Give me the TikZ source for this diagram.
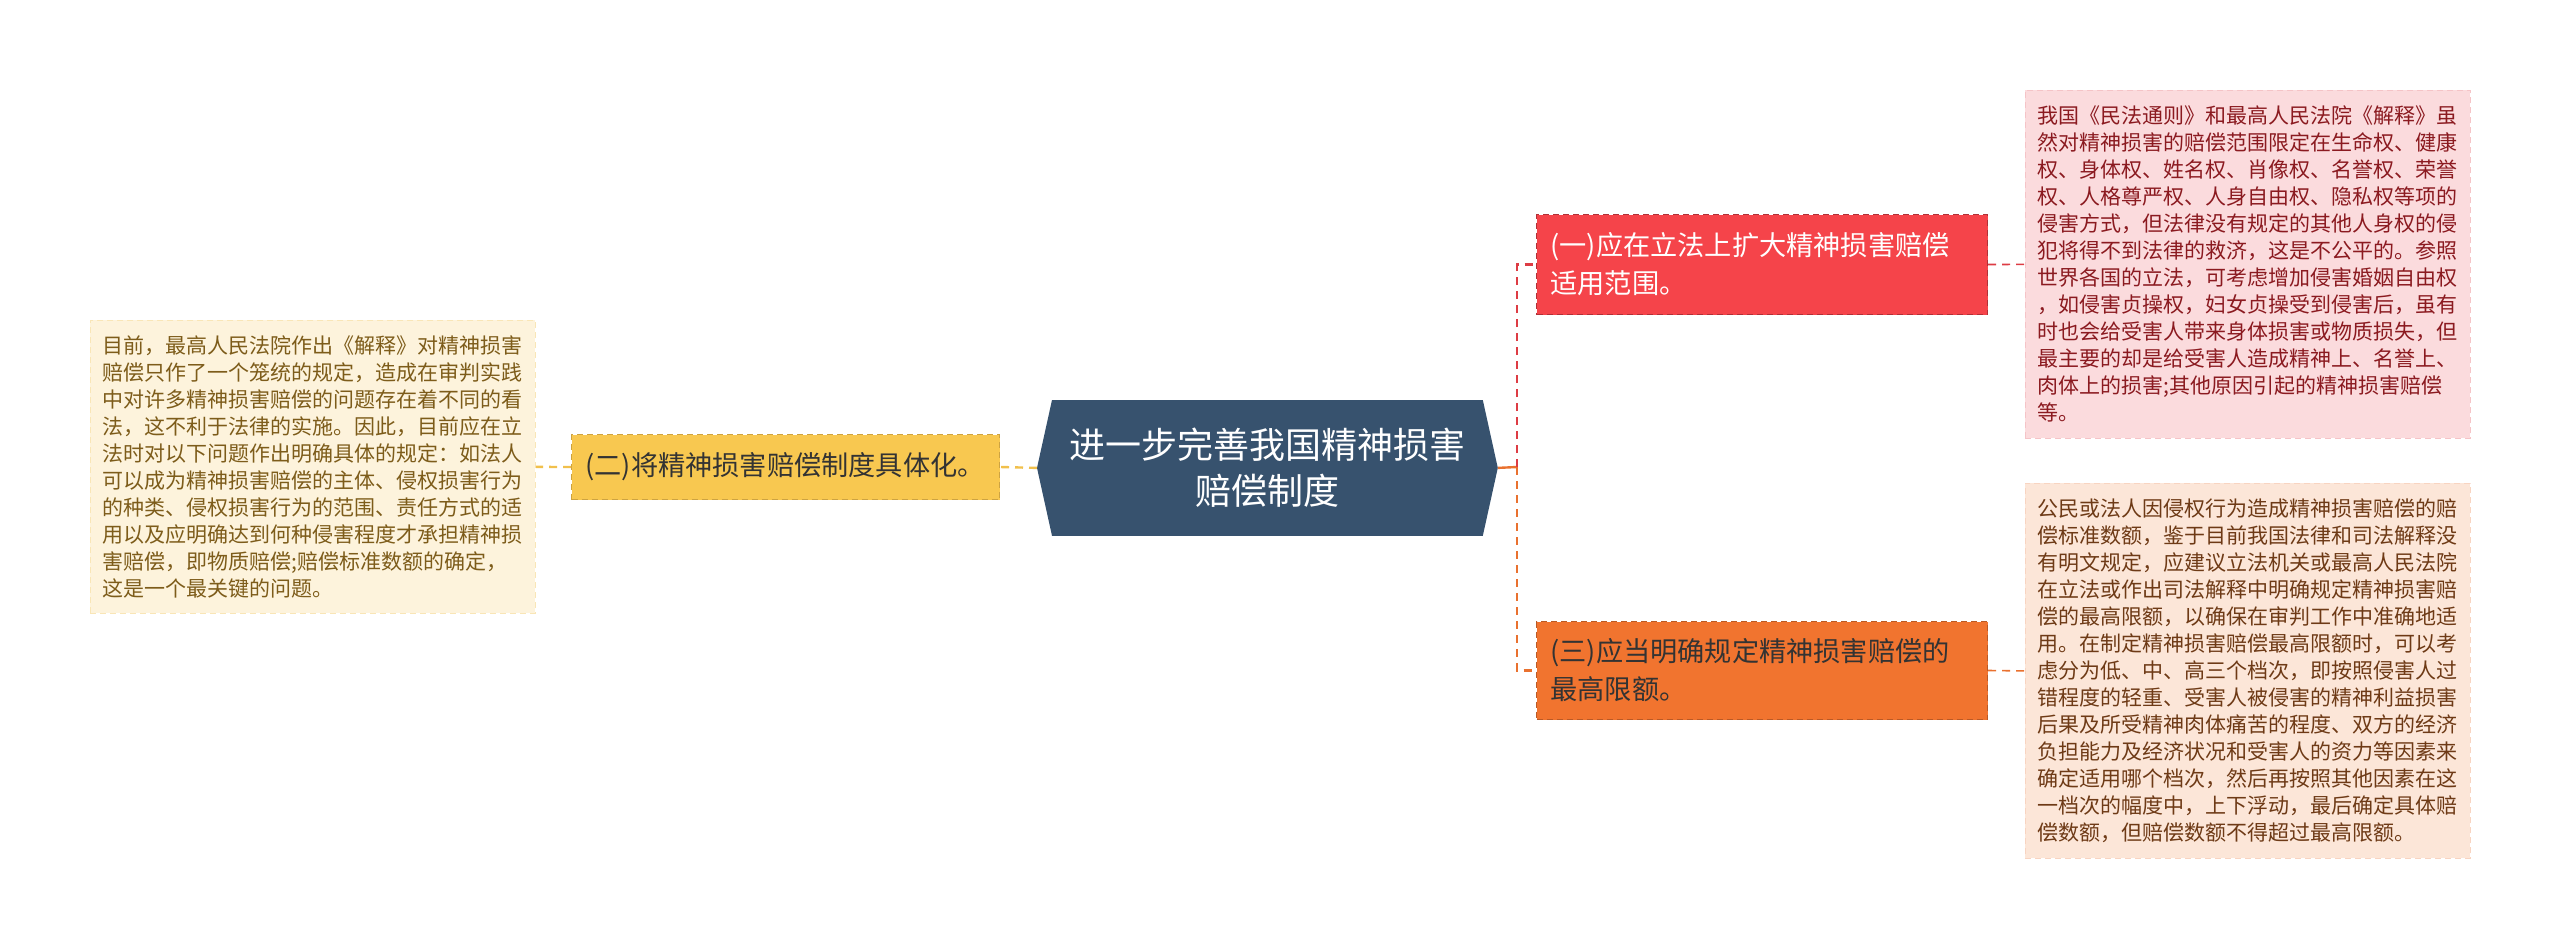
\documentclass[tikz,border=0pt]{standalone}
\usepackage{fontspec}
\newfontfamily\cjk{Noto Sans CJK SC}
\usepackage{tikz}
\usetikzlibrary{positioning,backgrounds}

\definecolor{rootblue}{HTML}{37526E}
\definecolor{redtopic}{HTML}{F5444A}
\definecolor{redline}{HTML}{DD3C44}
\definecolor{orangetopic}{HTML}{F1742F}
\definecolor{orangeline}{HTML}{E9712F}
\definecolor{yellowtopic}{HTML}{F8C850}
\definecolor{yellowline}{HTML}{F1C04C}
\definecolor{yellownote}{HTML}{FDF3DC}
\definecolor{yellowtext}{HTML}{7D5C1A}
\definecolor{pinknote}{HTML}{FBDBDD}
\definecolor{pinktext}{HTML}{8B1A20}
\definecolor{peachnote}{HTML}{FCE6D8}
\definecolor{peachtext}{HTML}{6E3A16}
\definecolor{darktext}{HTML}{333333}

\begin{document}
\begin{tikzpicture}[
    x=0.5pt, y=-0.5pt,
    topic/.style={anchor=north west, align=left, inner ysep=0pt, draw, densely dashed, line width=0.5pt,
        font=\cjk\fontsize{13.6pt}{19pt}\selectfont},
    note/.style={anchor=north west, align=left, inner xsep=6pt, inner ysep=0pt, text width=210.5pt,
        minimum width=222.5pt, draw, densely dashed, line width=0.4pt,
        font=\cjk\fontsize{10.5pt}{13.5pt}\selectfont},
    link/.style={line width=1.2pt, dash pattern=on 4pt off 3pt}
]
\useasboundingbox (0,0) rectangle (2560,948);

\node[anchor=north west, align=center, minimum width=230pt, minimum height=67.5pt, inner sep=0pt,
    text=white, font=\cjk\fontsize{18pt}{23pt}\selectfont] (root) at (1037,400) {进一步完善我国精神损害\\赔偿制度};
\begin{scope}[on background layer]
\fill[rootblue] (root.west) -- ([xshift=7.5pt]root.north west) -- ([xshift=-7.5pt]root.north east)
    -- (root.east) -- ([xshift=-7.5pt]root.south east) -- ([xshift=7.5pt]root.south west) -- cycle;
\end{scope}

\node[topic, fill=redtopic, draw=redline!80!black, text=white, inner xsep=7pt, text width=211.5pt,
    minimum height=50pt] (one) at (1536,214) {(一)应在立法上扩大精神损害赔偿\\适用范围。};
\node[topic, fill=orangetopic, draw=orangeline!80!black, text=darktext, inner xsep=7pt, text width=211.5pt,
    minimum height=49pt] (three) at (1536,621) {(三)应当明确规定精神损害赔偿的\\最高限额。};
\node[topic, fill=yellowtopic, draw=yellowline!85!black, text=darktext, inner xsep=7pt, text width=200pt,
    minimum height=32.5pt] (two) at (571,434) {(二)将精神损害赔偿制度具体化。};

\node[note, fill=yellownote, draw=yellowline!40, text=yellowtext, minimum height=146.5pt] (twonote) at (90,320) {%
目前，最高人民法院作出《解释》对精神损害\\
赔偿只作了一个笼统的规定，造成在审判实践\\
中对许多精神损害赔偿的问题存在着不同的看\\
法，这不利于法律的实施。因此，目前应在立\\
法时对以下问题作出明确具体的规定：如法人\\
可以成为精神损害赔偿的主体、侵权损害行为\\
的种类、侵权损害行为的范围、责任方式的适\\
用以及应明确达到何种侵害程度才承担精神损\\
害赔偿，即物质赔偿;赔偿标准数额的确定，\\
这是一个最关键的问题。};

\node[note, fill=pinknote, draw=redline!30, text=pinktext, minimum height=174pt] (onenote) at (2025,90) {%
我国《民法通则》和最高人民法院《解释》虽\\
然对精神损害的赔偿范围限定在生命权、健康\\
权、身体权、姓名权、肖像权、名誉权、荣誉\\
权、人格尊严权、人身自由权、隐私权等项的\\
侵害方式，但法律没有规定的其他人身权的侵\\
犯将得不到法律的救济，这是不公平的。参照\\
世界各国的立法，可考虑增加侵害婚姻自由权\\
，如侵害贞操权，妇女贞操受到侵害后，虽有\\
时也会给受害人带来身体损害或物质损失，但\\
最主要的却是给受害人造成精神上、名誉上、\\
肉体上的损害;其他原因引起的精神损害赔偿\\
等。};

\node[note, fill=peachnote, draw=orangeline!30, text=peachtext, minimum height=187.5pt] (threenote) at (2025,483) {%
公民或法人因侵权行为造成精神损害赔偿的赔\\
偿标准数额，鉴于目前我国法律和司法解释没\\
有明文规定，应建议立法机关或最高人民法院\\
在立法或作出司法解释中明确规定精神损害赔\\
偿的最高限额，以确保在审判工作中准确地适\\
用。在制定精神损害赔偿最高限额时，可以考\\
虑分为低、中、高三个档次，即按照侵害人过\\
错程度的轻重、受害人被侵害的精神利益损害\\
后果及所受精神肉体痛苦的程度、双方的经济\\
负担能力及经济状况和受害人的资力等因素来\\
确定适用哪个档次，然后再按照其他因素在这\\
一档次的幅度中，上下浮动，最后确定具体赔\\
偿数额，但赔偿数额不得超过最高限额。};

\coordinate (fork) at (1517,467);
\draw[link, yellowline] (root.west) -- (two.east);
\draw[link, yellowline] (two.west) -- (twonote.east);
\draw[line width=1.2pt, orangeline] (root.east) -- (fork);
\draw[link, redline] (fork) |- (one.west);
\draw[link, orangeline] (fork) |- (three.west);
\draw[link, line width=0.8pt, redline] (one.east) -- (onenote.west);
\draw[link, line width=0.8pt, orangeline] (three.east) -- (threenote.west);
\end{tikzpicture}
\end{document}
